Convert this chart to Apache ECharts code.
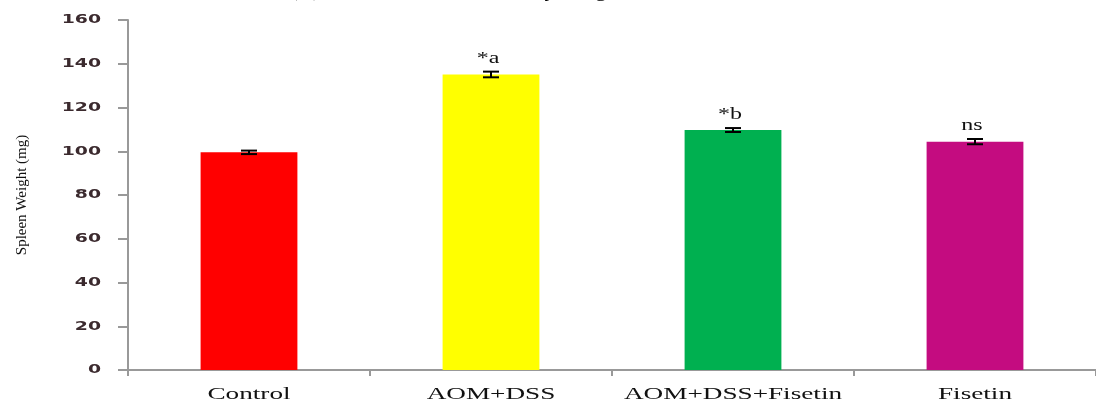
<!DOCTYPE html>
<html>
<head>
<meta charset="utf-8">
<script src="https://cdn.jsdelivr.net/npm/echarts@6/dist/echarts.min.js"></script>
<style>
  html, body { margin: 0; padding: 0; background: #fff; }
  #chart { width: 1096px; height: 403px; }
</style>
</head>
<body>
<div id="chart"></div>
<script>
// Spleen weight per treatment group
const groups = ['Control', 'AOM+DSS', 'AOM+DSS+Fisetin', 'Fisetin'];
const spleenWeight = [99.5, 135.1, 109.7, 104.4];
const errorSE = [0.8, 1.3, 0.9, 1.2];
const significance = ['', '*a', '*b', 'ns'];
const barColors = ['#FF0000', '#FFFF00', '#00B050', '#C40C80'];
const yTickValues = [0, 20, 40, 60, 80, 100, 120, 140, 160];

const chart = echarts.init(document.getElementById('chart'), null, { renderer: 'canvas' });

const errorData = spleenWeight.map((v, i) => [i, v, errorSE[i]]);
const catLabelData = groups.map((g, i) => [i, 0]);
const yLabelData = yTickValues.map(v => [0, v]);

chart.setOption({
  animation: false,
  graphic: [{
    type: 'text',
    left: 290,
    top: -19,
    scaleX: 1.15,
    style: {
      text: '(B) Effect of Fisetin on body weight of mice',
      font: '20px "Liberation Serif"',
      fill: '#000'
    }
  }],
  grid: { left: 128, top: 20, width: 975, height: 350, containLabel: false },
  xAxis: {
    type: 'category',
    data: groups,
    axisLine: { lineStyle: { color: '#999', width: 2 } },
    axisTick: { show: true, length: 6, lineStyle: { color: '#999', width: 2 } },
    axisLabel: { show: false }
  },
  yAxis: {
    type: 'value',
    min: 0, max: 160, interval: 20,
    name: 'Spleen Weight (mg)',
    nameLocation: 'middle',
    nameGap: 98,
    nameTextStyle: { color: '#111', fontFamily: 'Liberation Serif', fontSize: 15 },
    axisLine: { show: true, lineStyle: { color: '#999', width: 2 } },
    axisTick: { show: true, length: 10, lineStyle: { color: '#999', width: 2 } },
    axisLabel: { show: false },
    splitLine: { show: false }
  },
  series: [
    {
      type: 'bar',
      data: spleenWeight.map((v, i) => ({ value: v, itemStyle: { color: barColors[i] } })),
      barWidth: '40%',
      z: 2
    },
    {
      // error bars with significance marks
      type: 'custom',
      data: errorData,
      z: 5,
      renderItem: function (params, api) {
        const i = api.value(0), v = api.value(1), e = api.value(2);
        const label = significance[params.dataIndex];
        const top = api.coord([i, v + e]);
        const bot = api.coord([i, v - e]);
        const half = 8;
        const style = { stroke: '#000', lineWidth: 2 };
        const children = [
          { type: 'line', shape: { x1: top[0], y1: top[1], x2: bot[0], y2: bot[1] }, style: style },
          { type: 'line', shape: { x1: top[0] - half, y1: top[1], x2: top[0] + half, y2: top[1] }, style: style },
          { type: 'line', shape: { x1: bot[0] - half, y1: bot[1], x2: bot[0] + half, y2: bot[1] }, style: style }
        ];
        if (label) {
          children.push({
            type: 'text',
            x: top[0] - 3,
            y: top[1] - 5,
            scaleX: 1.5,
            style: {
              text: label,
              font: '16px "Liberation Serif"',
              fill: '#111',
              align: 'center',
              verticalAlign: 'bottom'
            }
          });
        }
        return { type: 'group', children: children };
      }
    },
    {
      // category names under the axis, widened serif
      type: 'custom',
      data: catLabelData,
      z: 5,
      renderItem: function (params, api) {
        const p = api.coord([api.value(0), 0]);
        return {
          type: 'text',
          x: p[0],
          y: p[1] + 25,
          scaleX: 1.7,
          style: {
            text: groups[params.dataIndex],
            font: '16px "Liberation Serif"',
            fill: '#111',
            align: 'center',
            verticalAlign: 'middle'
          }
        };
      }
    },
    {
      // value-axis tick labels, widened bold
      type: 'custom',
      data: yLabelData,
      z: 5,
      renderItem: function (params, api) {
        const p = api.coord([0, api.value(1)]);
        return {
          type: 'text',
          x: params.coordSys.x - 27,
          y: p[1],
          scaleX: 1.45,
          style: {
            text: String(api.value(1)),
            font: 'bold 13px "DejaVu Sans"',
            fill: '#3b2a2e',
            align: 'right',
            verticalAlign: 'middle'
          }
        };
      }
    }
  ]
});
</script>
</body>
</html>
